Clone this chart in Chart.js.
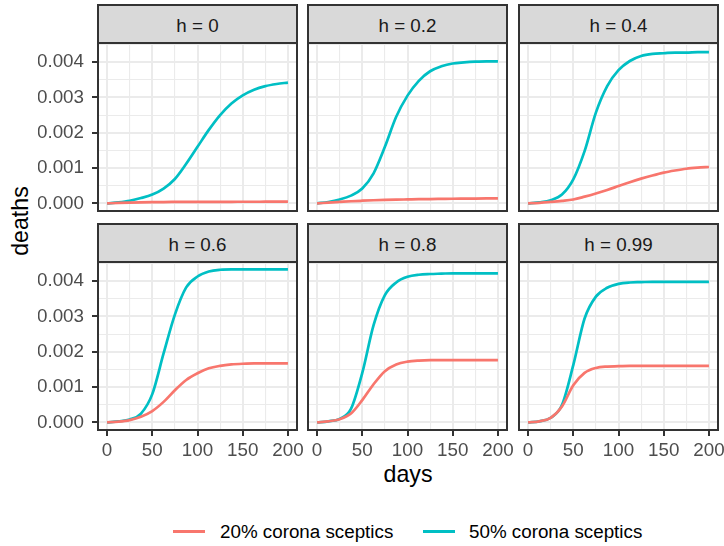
<!DOCTYPE html>
<html lang="en">
<head>
<meta charset="UTF-8">
<title>deaths by days</title>
<script src="https://cdn.jsdelivr.net/npm/chart.js"></script>
<style>
    body { margin: 0; background: #fff; font-family: "Liberation Sans", Arial, sans-serif; }
    #wrap { position: relative; width: 724px; height: 546px; overflow: hidden; }
    .panel { position: absolute; }
    .strip {
        position: absolute; box-sizing: border-box; height: 40px;
        background: #D9D9D9; border: 2px solid #333333;
        color: #1A1A1A; font-size: 18.8px; line-height: 40px; text-align: center;
    }
    .title { position: absolute; color: #000; font-size: 23.2px; line-height: 24px; text-align: center; }
    .key { position: absolute; height: 3px; width: 32px; }
    .keytext { position: absolute; font-size: 18.8px; line-height: 20px; color: #000; white-space: nowrap; }
</style>
</head>
<body>
<div id="wrap">
    <div class="title" style="left: 358px; top: 462px; width: 100px;">days</div>
    <div class="title" style="left: -30px; top: 209px; width: 100px; transform: rotate(-90deg);">deaths</div>

    <div class="key" style="left: 173px; top: 530px; background: #F8766D;"></div>
    <div class="keytext" id="leg0" style="left: 220px; top: 522px;"></div>
    <div class="key" style="left: 423px; top: 530px; background: #00BFC4;"></div>
    <div class="keytext" id="leg1" style="left: 469px; top: 522px;"></div>
</div>
<script>
    // days on the x axis (read every 12.5 days)
    const days = [0, 12.5, 25, 37.5, 50, 62.5, 75, 87.5, 100, 112.5, 125, 137.5, 150, 162.5, 175, 187.5, 200];

    // 20% corona sceptics
    const low_h0 = [0, 0.000012, 0.000022, 0.00003, 0.000035, 0.000038, 0.00004, 0.000042, 0.000043, 0.000044, 0.000045, 0.000045, 0.000046, 0.000046, 0.000047, 0.000047, 0.000047];
    const low_h02 = [0, 0.00002, 0.00004, 0.00006, 0.000075, 0.000088, 0.000098, 0.000106, 0.000112, 0.000118, 0.000123, 0.000127, 0.000131, 0.000134, 0.000137, 0.000139, 0.00014];
    const low_h04 = [0, 0.000015, 0.00004, 0.00007, 0.00011, 0.00019, 0.00028, 0.00038, 0.00049, 0.0006, 0.0007, 0.00079, 0.00087, 0.00093, 0.00098, 0.00101, 0.00103];
    const low_h06 = [0, 0.00002, 0.000065, 0.00016, 0.00032, 0.00058, 0.00091, 0.0012, 0.00139, 0.00153, 0.0016, 0.00164, 0.00166, 0.00167, 0.00167, 0.00167, 0.00167];
    const low_h08 = [0, 0.00003, 0.00009, 0.00025, 0.00063, 0.00108, 0.00145, 0.00164, 0.00172, 0.00175, 0.00176, 0.00176, 0.00176, 0.00176, 0.00176, 0.00176, 0.00176];
    const low_h099 = [0, 0.00003, 0.00013, 0.00045, 0.00105, 0.0014, 0.00154, 0.00158, 0.00159, 0.0016, 0.0016, 0.0016, 0.0016, 0.0016, 0.0016, 0.0016, 0.0016];

    // 50% corona sceptics
    const high_h0 = [0, 0.00003, 0.000075, 0.00015, 0.00025, 0.00042, 0.00069, 0.00112, 0.0016, 0.00208, 0.0025, 0.00283, 0.00306, 0.00322, 0.00332, 0.00338, 0.00342];
    const high_h02 = [0, 0.00004, 0.00011, 0.00022, 0.00042, 0.00085, 0.0016, 0.00245, 0.00305, 0.00347, 0.00374, 0.00388, 0.00396, 0.00399, 0.00401, 0.00402, 0.00402];
    const high_h04 = [0, 0.00003, 0.00009, 0.00025, 0.00068, 0.00148, 0.00257, 0.00332, 0.00377, 0.00403, 0.00417, 0.00423, 0.00425, 0.00427, 0.00427, 0.00428, 0.00428];
    const high_h06 = [0, 0.00003, 0.00008, 0.00025, 0.0008, 0.00195, 0.00305, 0.00382, 0.00413, 0.00427, 0.00432, 0.00433, 0.00433, 0.00433, 0.00433, 0.00433, 0.00433];
    const high_h08 = [0, 0.00003, 0.0001, 0.00038, 0.0014, 0.00275, 0.0036, 0.00396, 0.00412, 0.00418, 0.0042, 0.00421, 0.00422, 0.00422, 0.00422, 0.00422, 0.00422];
    const high_h099 = [0, 0.00003, 0.00013, 0.00049, 0.00162, 0.00294, 0.00356, 0.00381, 0.00392, 0.00396, 0.00397, 0.00398, 0.00398, 0.00398, 0.00398, 0.00398, 0.00398];

    const panelTitles = ['h = 0', 'h = 0.2', 'h = 0.4', 'h = 0.6', 'h = 0.8', 'h = 0.99'];
    const seriesNames = ['20% corona sceptics', '50% corona sceptics'];
    const xTicks = [0, 25, 50, 75, 100, 125, 150, 175, 200];
    const yTicks = [0, 0.0005, 0.001, 0.0015, 0.002, 0.0025, 0.003, 0.0035, 0.004, 0.0045];

    const lowSeries = [low_h0, low_h02, low_h04, low_h06, low_h08, low_h099];
    const highSeries = [high_h0, high_h02, high_h04, high_h06, high_h08, high_h099];

    const FONT = '"Liberation Sans", Arial, sans-serif';
    const colLeft = [98, 308, 519];
    const rowTop = [43, 262];
    const plotW = 199, plotH = 168;
    const yAxisW = 60, xAxisH = 40, padT = 30, padR = 16, padB = 30;

    document.getElementById('leg0').textContent = seriesNames[0];
    document.getElementById('leg1').textContent = seriesNames[1];

    // ggplot-like panel border
    const borderPlugin = {
        id: 'panelBorder',
        afterDraw(chart) {
            const a = chart.chartArea;
            const c = chart.ctx;
            c.save();
            c.strokeStyle = '#333333';
            c.lineWidth = 2;
            c.strokeRect(a.left, a.top, a.right - a.left, a.bottom - a.top);
            c.restore();
        }
    };

    const wrap = document.getElementById('wrap');

    panelTitles.forEach((title, i) => {
        const col = i % 3;
        const row = Math.floor(i / 3);
        const showY = col === 0;
        const showX = row === 1;

        const box = document.createElement('div');
        box.className = 'panel';
        const w = yAxisW + plotW + padR;
        const h = padT + plotH + (showX ? xAxisH : 0) + padB;
        box.style.left = (colLeft[col] - yAxisW) + 'px';
        box.style.top = (rowTop[row] - padT) + 'px';
        const canvas = document.createElement('canvas');
        canvas.width = w;
        canvas.height = h;
        box.appendChild(canvas);
        wrap.appendChild(box);

        const strip = document.createElement('div');
        strip.className = 'strip';
        strip.style.left = (colLeft[col] - 1) + 'px';
        strip.style.top = (rowTop[row] - 39) + 'px';
        strip.style.width = (plotW + 2) + 'px';
        strip.textContent = title;
        wrap.appendChild(strip);

        const toPoints = (vals) => days.map((d, k) => ({ x: d, y: vals[k] }));

        new Chart(canvas, {
            type: 'line',
            data: {
                datasets: [
                    {
                        label: seriesNames[0],
                        data: toPoints(lowSeries[i]),
                        borderColor: '#F8766D',
                        borderWidth: 2.7,
                        pointRadius: 0,
                        cubicInterpolationMode: 'monotone',
                        fill: false
                    },
                    {
                        label: seriesNames[1],
                        data: toPoints(highSeries[i]),
                        borderColor: '#00BFC4',
                        borderWidth: 2.7,
                        pointRadius: 0,
                        cubicInterpolationMode: 'monotone',
                        fill: false
                    }
                ]
            },
            options: {
                responsive: false,
                animation: false,
                devicePixelRatio: 1,
                layout: { padding: { left: 0, right: padR, top: padT, bottom: padB } },
                plugins: { legend: { display: false }, tooltip: { enabled: false } },
                scales: {
                    x: {
                        type: 'linear',
                        min: -10,
                        max: 210,
                        afterBuildTicks: (scale) => { scale.ticks = xTicks.map(v => ({ value: v })); },
                        afterFit: (scale) => { scale.height = showX ? xAxisH : 0; },
                        border: { display: false },
                        grid: {
                            color: '#EBEBEB',
                            lineWidth: (ctx) => (ctx.index % 2 === 0 ? 2 : 1.1),
                            drawTicks: showX,
                            tickLength: 6,
                            tickWidth: 2,
                            tickColor: (ctx) => (ctx.index % 2 === 0 ? '#333333' : 'rgba(0,0,0,0)')
                        },
                        ticks: {
                            display: showX,
                            autoSkip: false,
                            maxRotation: 0,
                            minRotation: 0,
                            padding: 4,
                            color: '#4D4D4D',
                            font: { family: FONT, size: 18.8 },
                            callback: (value) => (value % 50 === 0 ? String(value) : '')
                        }
                    },
                    y: {
                        min: -0.000216,
                        max: 0.00454,
                        afterBuildTicks: (scale) => { scale.ticks = yTicks.map(v => ({ value: v })); },
                        afterFit: (scale) => { scale.width = yAxisW; },
                        border: { display: false },
                        grid: {
                            color: '#EBEBEB',
                            lineWidth: (ctx) => (ctx.index % 2 === 0 ? 2 : 1.1),
                            drawTicks: showY,
                            tickLength: 6,
                            tickWidth: 2,
                            tickColor: (ctx) => (ctx.index % 2 === 0 ? '#333333' : 'rgba(0,0,0,0)')
                        },
                        ticks: {
                            display: showY,
                            autoSkip: false,
                            padding: 8,
                            color: '#4D4D4D',
                            font: { family: FONT, size: 18.8 },
                            callback: (value, index) => (index % 2 === 0 ? Number(value).toFixed(3) : '')
                        }
                    }
                }
            },
            plugins: [borderPlugin]
        });
    });
</script>
</body>
</html>
